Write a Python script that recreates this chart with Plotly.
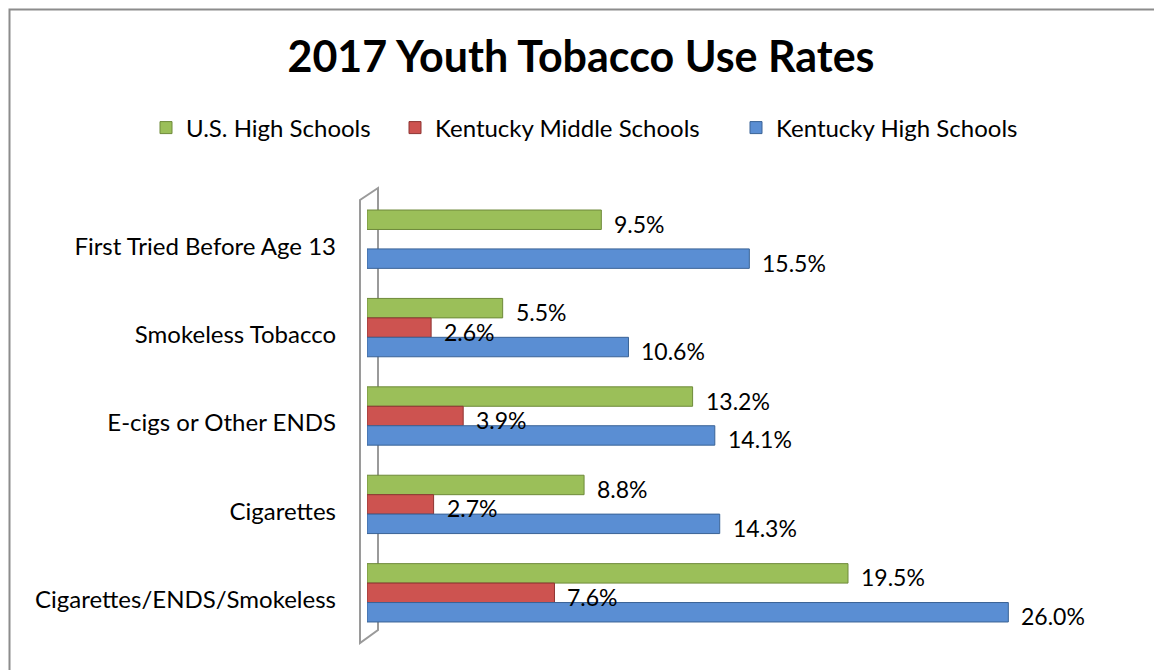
import plotly.graph_objects as go

categories = ["First Tried Before Age 13", "Smokeless Tobacco", "E-cigs or Other ENDS",
              "Cigarettes", "Cigarettes/ENDS/Smokeless"]
series_names = ["U.S. High Schools", "Kentucky Middle Schools", "Kentucky High Schools"]
us_high = [9.5, 5.5, 13.2, 8.8, 19.5]
ky_middle = [None, 2.6, 3.9, 2.7, 7.6]
ky_high = [15.5, 10.6, 14.1, 14.3, 26.0]
title_text = "2017 Youth Tobacco Use Rates"

# page body has an 8px margin; work in reference pixel coordinates and subtract it
OX, OY = 8, 8
W, H = 1162 - OX, 670 - OY
L, T = 367 - OX, 195 - OY
PR, PB = 1107 - OX, 637 - OY          # plot right / bottom in figure pixels
R, B = W - PR, H - PB
colors = ["#9BBF59", "#CD5350", "#5A8ED3"]
edges = ["#6E8A3A", "#8E3432", "#3A6396"]
FONT = "Lato, Carlito, Calibri, sans-serif"
legend_left = [146, 395, 736]          # left edge of each legend entry (reference px)

bargap = 0.34
w = (1 - bargap) / 3

pw, ph = W - L - R, H - T - B
def px(xp):
    return (xp - OX - L) / pw
def py(yp):
    return (H - B - (yp - OY)) / ph

legend_ids = ["legend", "legend2", "legend3"]

fig = go.Figure()
for k, (name, vals) in enumerate(zip(series_names, [us_high, ky_middle, ky_high])):
    fig.add_trace(go.Bar(
        y=categories, x=vals, orientation="h", name=name, legend=legend_ids[k],
        showlegend=True,
        marker=dict(color=colors[k], line=dict(color=edges[k], width=1)),
        hoverinfo="skip",
    ))

annotations = []
for k, vals in enumerate([us_high, ky_middle, ky_high]):
    for i, v in enumerate(vals):
        if v is None:
            continue
        annotations.append(dict(
            x=v, y=i + (k - 1) * w, xref="x", yref="y",
            text=f"{v:.1f}%", showarrow=False, xanchor="left", yanchor="middle",
            xshift=11, yshift=-4, font=dict(family=FONT, size=23, color="#000000"),
        ))

shapes = [
    # outer chart border
    dict(type="rect", xref="paper", yref="paper", x0=px(9.5), x1=px(1155), y0=py(676), y1=py(9.5),
         line=dict(color="#8C8C8C", width=2), layer="below"),
    # 3D wall of the category axis
    dict(type="path", xref="paper", yref="paper",
         path=f"M {px(360)},{py(643)} L {px(360)},{py(200)} L {px(378)},{py(188)} L {px(378)},{py(630)} Z",
         line=dict(color="#9A9A9A", width=2), fillcolor="rgba(0,0,0,0)", layer="below"),
]

legends = {}
for k, lid in enumerate(legend_ids):
    legends[lid] = dict(orientation="h", xref="paper", x=px(legend_left[k]), xanchor="left",
                        yref="paper", y=py(128), yanchor="middle", visible=True,
                        font=dict(family=FONT, size=24, color="#000000"), itemwidth=30,
                        bgcolor="rgba(0,0,0,0)")

fig.update_layout(
    width=W, height=H, showlegend=True,
    margin=dict(l=L, r=R, t=T, b=B, autoexpand=False),
    paper_bgcolor="white", plot_bgcolor="rgba(0,0,0,0)",
    barmode="group", bargap=bargap, bargroupgap=0,
    title=dict(text=f"<b>{title_text}</b>", x=(581 - OX) / W, xref="container", xanchor="center",
               y=1 - (57 - OY) / H, yref="container", yanchor="middle",
               font=dict(family=FONT, size=43, color="#000000")),
    xaxis=dict(range=[0, 30], showgrid=False, zeroline=False, showticklabels=False,
               showline=False, ticks=""),
    yaxis=dict(type="category", range=[4.5, -0.5], showgrid=False, zeroline=False,
               showline=False, ticks="", ticklabelstandoff=30, ticklabelshift=-7,
               tickfont=dict(family=FONT, size=24, color="#000000")),
    annotations=annotations, shapes=shapes,
    **legends,
)

fig.write_html("out.html")
